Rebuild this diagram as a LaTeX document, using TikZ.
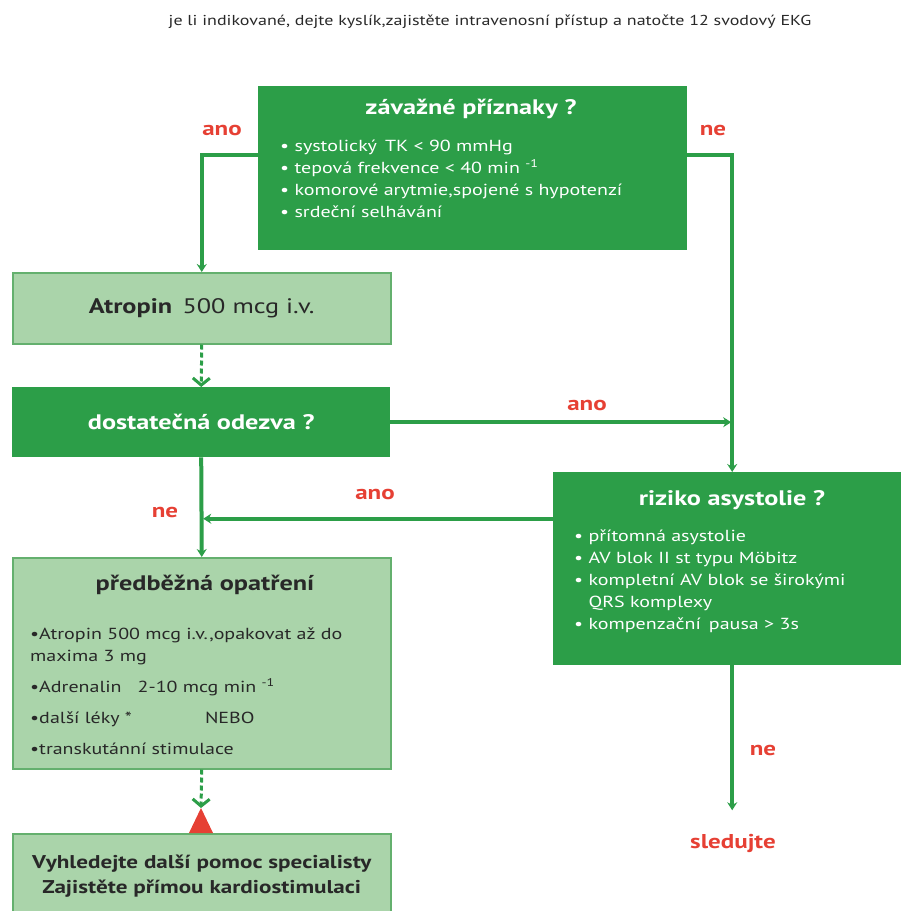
\documentclass[tikz,border=0pt]{standalone}
\usepackage{fontspec}
\setmainfont{PT Sans}[FakeStretch=1.25]
\usetikzlibrary{arrows.meta, positioning}
\definecolor{darkgreen}{RGB}{44,158,72}
\definecolor{lightgreen}{RGB}{170,212,170}
\definecolor{edgegreen}{RGB}{100,176,110}
\definecolor{answerred}{RGB}{230,64,52}
\definecolor{bodytext}{RGB}{40,40,40}
\tikzset{
	darkbox/.style={rectangle, draw=none, fill=darkgreen, anchor=north west, inner sep=0pt,
		text=white, align=center, font=\fontsize{21}{24}\selectfont\bfseries},
	lightbox/.style={rectangle, draw=edgegreen, line width=1.5pt, fill=lightgreen, anchor=north west,
		inner sep=0pt, text=bodytext, align=center, font=\fontsize{21}{24}\selectfont},
	headwhite/.style={text=white, font=\fontsize{21}{24}\selectfont\bfseries},
	headdark/.style={text=bodytext, font=\fontsize{21}{24}\selectfont\bfseries},
	bulletlist/.style={anchor=north west, align=left, inner sep=0pt, font=\fontsize{16}{22}\selectfont},
	answer/.style={text=answerred, font=\fontsize{20}{22}\selectfont\bfseries},
	arrow/.style={-{Stealth[length=8pt, width=10pt]}, line width=4pt, draw=darkgreen},
	dasharrow/.style={-{Straight Barb[length=7pt, width=17pt]}, line width=3pt, draw=darkgreen,
		dash pattern=on 5pt off 3pt},
}

\begin{document}
\begin{tikzpicture}[x=1pt, y=-1pt]
	\useasboundingbox (0,0) rectangle (901,911);
	% intro line
	\node[text=bodytext, font=\fontsize{14.4}{18}\selectfont] (intro) at (490,22)
		{je li indikované, dejte kyslík,zajistěte intravenosní přístup a natočte 12 svodový EKG};
	% boxes
	\node[darkbox, minimum width=429pt, minimum height=164pt] (severe) at (258,86) {};
	\node[headwhite] (severehead) at (471,109) {závažné příznaky ?};
	\node[bulletlist, text=white] (severelist) at (280,140)
		{\textbullet{} systolický\, TK < 90 mmHg\\
		 \textbullet{} tepová frekvence < 40 min \textsuperscript{-1}\\
		 \textbullet{} komorové arytmie,spojené s hypotenzí\\
		 \textbullet{} srdeční selhávání};
	\node[lightbox, minimum width=378pt, minimum height=71pt] (atropin) at (12,272)
		{\textbf{Atropin}\, 500 mcg i.v.};
	\node[darkbox, minimum width=378pt, minimum height=70pt] (odezva) at (12,387)
		{dostatečná odezva ?};
	\node[darkbox, minimum width=358pt, minimum height=193pt] (riziko) at (553,472) {};
	\node[headwhite] (rizikohead) at (732,500) {riziko asystolie ?};
	\node[bulletlist, text=white] (rizikolist) at (574,530)
		{\textbullet{} přítomná asystolie\\
		 \textbullet{} AV blok II st typu Möbitz\\
		 \textbullet{} kompletní AV blok se širokými\\
		 \phantom{\textbullet{} }QRS komplexy\\
		 \textbullet{} kompenzační\, pausa > 3s};
	\node[lightbox, minimum width=378pt, minimum height=211pt] (measures) at (12,557) {};
	\node[headdark] (measureshead) at (205,585) {předběžná opatření};
	\node[bulletlist, text=bodytext] (measureslist) at (30,628)
		{\textbullet{}Atropin 500 mcg i.v.,opakovat až do\\
		 maxima 3 mg\\[9pt]
		 \textbullet{}Adrenalin\quad 2-10 mcg min \textsuperscript{-1}\\[9pt]
		 \textbullet{}další léky *\hspace{73pt}NEBO\\[9pt]
		 \textbullet{}transkutánní stimulace};
	\node[lightbox, minimum width=378pt, minimum height=85pt, font=\fontsize{18.5}{25}\selectfont\bfseries]
		(specialist) at (12,833)
		{Vyhledejte další pomoc specialisty\\Zajistěte přímou kardiostimulaci};
	\fill[answerred] (189,833) -- (201,808) coordinate (warn) -- (213,833) -- cycle;
	\node[answer] (follow) at (733,843) {sledujte};
	% answers
	\node[answer] (yes1) at (222,130) {ano};
	\node[answer] (no1) at (713,130) {ne};
	\node[answer] (yes2) at (587,405) {ano};
	\node[answer] (yes3) at (375,494) {ano};
	\node[answer] (no2) at (165,512) {ne};
	\node[answer] (no3) at (763,750) {ne};
	% connectors
	\draw[arrow] ([yshift=13pt]severe.west) -| (atropin.north);
	\draw[arrow] ([yshift=13pt]severe.east) -| (riziko.north);
	\draw[dasharrow] (atropin.south) -- (odezva.north);
	\draw[arrow, shorten >=1pt] (odezva.east) -- (odezva.east -| riziko.north);
	\draw[arrow, shorten >=2pt] ([yshift=50pt]riziko.west) -- ([yshift=50pt]riziko.west -| odezva.south);
	\draw[arrow] (odezva.south) -- (measures.north);
	\draw[dasharrow] (measures.south) -- (warn);
	\draw[arrow, shorten >=20pt] (riziko.south) -- (follow.north -| riziko.south);
\end{tikzpicture}
\end{document}
